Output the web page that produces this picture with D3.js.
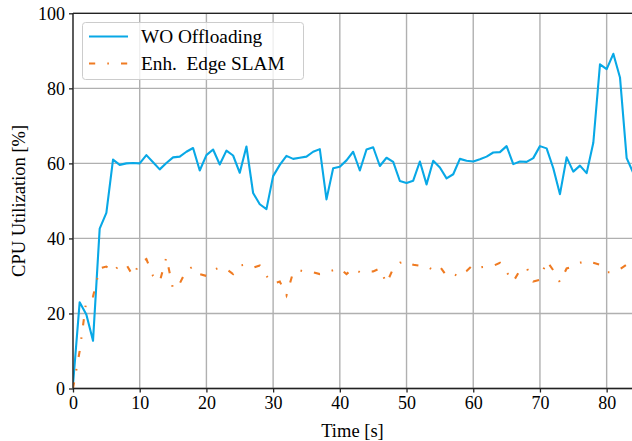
<!DOCTYPE html>
<html><head><meta charset="utf-8">
<script src="https://cdn.jsdelivr.net/npm/d3@7"></script>
<style>
html,body{margin:0;padding:0;background:#fff;}
svg text{font-family:"Liberation Serif","Times New Roman",serif;fill:#000;}
</style></head>
<body>
<svg id="chart" width="632" height="441"></svg>
<script>
const timeSec = d3.range(0, 85);
const woOffloading = [1,23,19.7,12.7,42.6,46.8,61,59.6,60,60.1,60,62.2,60.3,58.4,60.1,61.6,61.8,63.1,64.1,58.1,
  62.2,63.7,59.7,63.4,62.1,57.5,64.5,52.1,49.1,47.8,56.6,59.6,62,61.2,61.5,61.8,63.1,63.8,50.4,58.7,
  59.1,60.8,63.1,58.1,63.7,64.3,59.3,61.5,60.4,55.3,54.8,55.4,60.5,54.4,60.7,58.9,56,57.1,61.2,60.7,
  60.5,61.1,61.8,62.9,63,64.6,59.8,60.5,60.4,61.4,64.6,64,58.7,51.8,61.6,57.8,59.4,57.4,65.5,86.4,
  85.1,89.2,82.9,61.4,57.4];
const enhEdgeSlam = [0,10,23.5,24.5,32,32.5,31,33,33,30,33.5,34.5,30,28.5,35,26.5,28,31.5,32.5,30.5,
  30,31.5,32.3,31.8,30.5,32.8,33,32.2,32.8,30,28,28.5,24.8,31,31.5,31,31,30.5,31,31.5,
  32,30.5,32,31,31.3,31.2,32,28,32,33.5,34,33,32.7,32.7,31.5,32.5,30,30.5,29.8,31.3,
  33,32.3,32.5,32.7,33.5,31,28.5,31.5,32.2,28.5,29,34,31.5,28.3,32,32.5,33.5,34,33.5,33,
  31,31,31.8,33,34.5];
const xTicks = [0,10,20,30,40,50,60,70,80];
const yTicks = [0,20,40,60,80,100];
const seriesNames = ["WO Offloading","Enh.\u2002Edge SLAM"];
const seriesColors = ["#08a8e6","#ef7b22"];

const svg = d3.select("#chart");
const L = 73, R = 632, T = 13.3, B = 388.5;
const x = d3.scaleLinear().domain([0, 83.8]).range([L, R]);
const y = d3.scaleLinear().domain([0, 100]).range([B, T]);

svg.append("defs").append("clipPath").attr("id","clip")
  .append("rect").attr("x",L).attr("y",T).attr("width",R-L).attr("height",B-T);

// grid
const grid = svg.append("g");
grid.selectAll("line.gx").data(xTicks).join("line")
  .attr("x1",d=>x(d)).attr("x2",d=>x(d)).attr("y1",T).attr("y2",B)
  .attr("stroke","#b0b0b0").attr("stroke-width",1.4);
grid.selectAll("line.gy").data(yTicks).join("line")
  .attr("y1",d=>y(d)).attr("y2",d=>y(d)).attr("x1",L).attr("x2",R)
  .attr("stroke","#b0b0b0").attr("stroke-width",1.4);

const dashPattern = "6.2,12.1,1.6,12.1";
const line = d3.line().x((d,i)=>x(timeSec[i])).y(d=>y(d));
const plot = svg.append("g").attr("clip-path","url(#clip)");
plot.append("path").datum(woOffloading).attr("d",line)
  .attr("fill","none").attr("stroke",seriesColors[0]).attr("stroke-width",2.1).attr("stroke-linejoin","round");
plot.append("path").datum(enhEdgeSlam).attr("d",line)
  .attr("fill","none").attr("stroke",seriesColors[1]).attr("stroke-width",2.1)
  .attr("stroke-dasharray",dashPattern).attr("stroke-linecap","butt");

// axes
const xAxis = d3.axisBottom(x).tickValues(xTicks).tickSize(4).tickPadding(4).tickSizeOuter(0);
const yAxis = d3.axisLeft(y).tickValues(yTicks).tickSize(4).tickPadding(4).tickSizeOuter(0);
const gx = svg.append("g").attr("transform",`translate(0,${B})`).call(xAxis);
const gy = svg.append("g").attr("transform",`translate(${L},0)`).call(yAxis);
[gx,gy].forEach(g=>{
  g.select(".domain").remove();
  g.selectAll(".tick line").attr("stroke","#222").attr("stroke-width",1.3);
  g.selectAll(".tick text").attr("font-size",18).attr("fill","#000")
    .style("font-family",'"Liberation Serif",serif');
});
// spines
svg.append("line").attr("x1",L).attr("x2",R).attr("y1",B).attr("y2",B).attr("stroke","#222").attr("stroke-width",1.3);
svg.append("line").attr("x1",L).attr("x2",L).attr("y1",T).attr("y2",B).attr("stroke","#222").attr("stroke-width",1.3);
svg.append("line").attr("x1",L).attr("x2",R).attr("y1",T).attr("y2",T).attr("stroke","#222").attr("stroke-width",1.3);

// labels
svg.append("text").attr("x",(L+R)/2).attr("y",437).attr("text-anchor","middle")
  .attr("font-size",18.5).text("Time [s]");
svg.append("text").attr("transform",`translate(25,${(T+B)/2}) rotate(-90)`).attr("text-anchor","middle")
  .attr("font-size",18.5).text("CPU Utilization [%]");

// legend
const lg = svg.append("g");
lg.append("rect").attr("x",82.5).attr("y",22.5).attr("width",221).attr("height",57).attr("rx",3)
  .attr("fill","#fff").attr("fill-opacity",0.8).attr("stroke","#cccccc").attr("stroke-width",1);
seriesNames.forEach((n,i)=>{
  const yy = 36.5 + i*27;
  const l = lg.append("line").attr("x1",89).attr("x2",128).attr("y1",yy).attr("y2",yy)
    .attr("stroke",seriesColors[i]).attr("stroke-width",2.1);
  if(i===1) l.attr("stroke-dasharray",dashPattern);
  lg.append("text").attr("x",141).attr("y",yy+6.5).attr("font-size",19.3).text(n);
});
</script>
</body></html>
